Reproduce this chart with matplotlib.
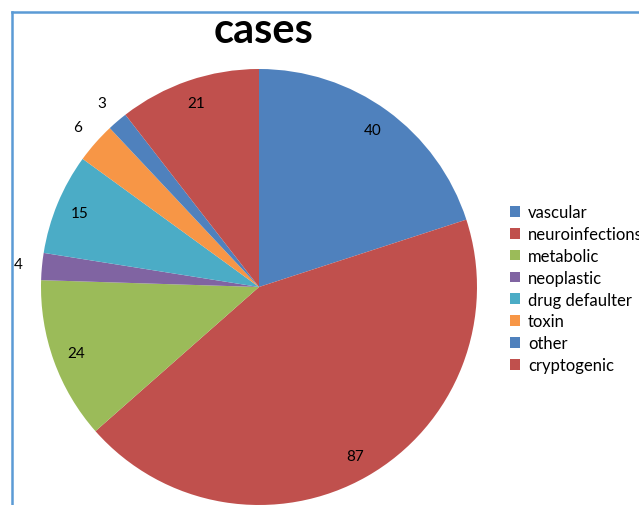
import numpy as np
import matplotlib
matplotlib.use("Agg")
import matplotlib.pyplot as plt
from matplotlib.patches import Patch
from matplotlib.lines import Line2D

plt.rcParams['font.family'] = ['Lato', 'DejaVu Sans']

# dados
categorias = ["vascular", "neuroinfections", "metabolic", "neoplastic",
              "drug defaulter", "toxin", "other", "cryptogenic"]
casos = [40, 87, 24, 4, 15, 6, 3, 21]
cores = ["#4F81BD", "#C0504D", "#9BBB59", "#8064A2",
         "#4BACC6", "#F79646", "#4F81BD", "#C0504D"]

W, H = 639, 506
fig = plt.figure(figsize=(W / 100, H / 100), dpi=100)
ax = fig.add_axes([0, 0, 1, 1])

cx, cy, r = 259, H - 288, 218
wedges, _ = ax.pie(casos, colors=cores, startangle=90, counterclock=False,
                   center=(cx, cy), radius=r, frame=True,
                   wedgeprops=dict(linewidth=0))
ax.set_xlim(0, W)
ax.set_ylim(0, H)
ax.set_aspect('equal')
ax.axis('off')

# rótulos: dentro para fatias grandes, fora para as pequenas
total = sum(casos)
for w, v in zip(wedges, casos):
    ang = np.deg2rad((w.theta1 + w.theta2) / 2)
    d = 0.89 if v / total > 0.05 else 1.11
    ax.text(cx + d * r * np.cos(ang), cy + d * r * np.sin(ang), str(v),
            ha='center', va='center', fontsize=11, color='black')

fig.text(264 / W, 1 - 31 / H, "cases", ha='center', va='center',
         fontsize=30, fontweight='bold')

handles = [Patch(facecolor=c, edgecolor='none') for c in cores]
fig.legend(handles, categorias, loc='upper left',
           bbox_to_anchor=(502 / W, 1 - 197 / H), frameon=False,
           fontsize=12, handlelength=0.6, handleheight=0.6,
           handletextpad=0.45, labelspacing=0.35, borderpad=0)

# moldura
fig.add_artist(Line2D([12 / W, 12 / W], [1 - 13 / H, 0], color="#5B9BD5", lw=1.8))
fig.add_artist(Line2D([12 / W, 1], [1 - 13 / H, 1 - 13 / H], color="#5B9BD5", lw=1.8))

fig.savefig("out.png", dpi=100)
